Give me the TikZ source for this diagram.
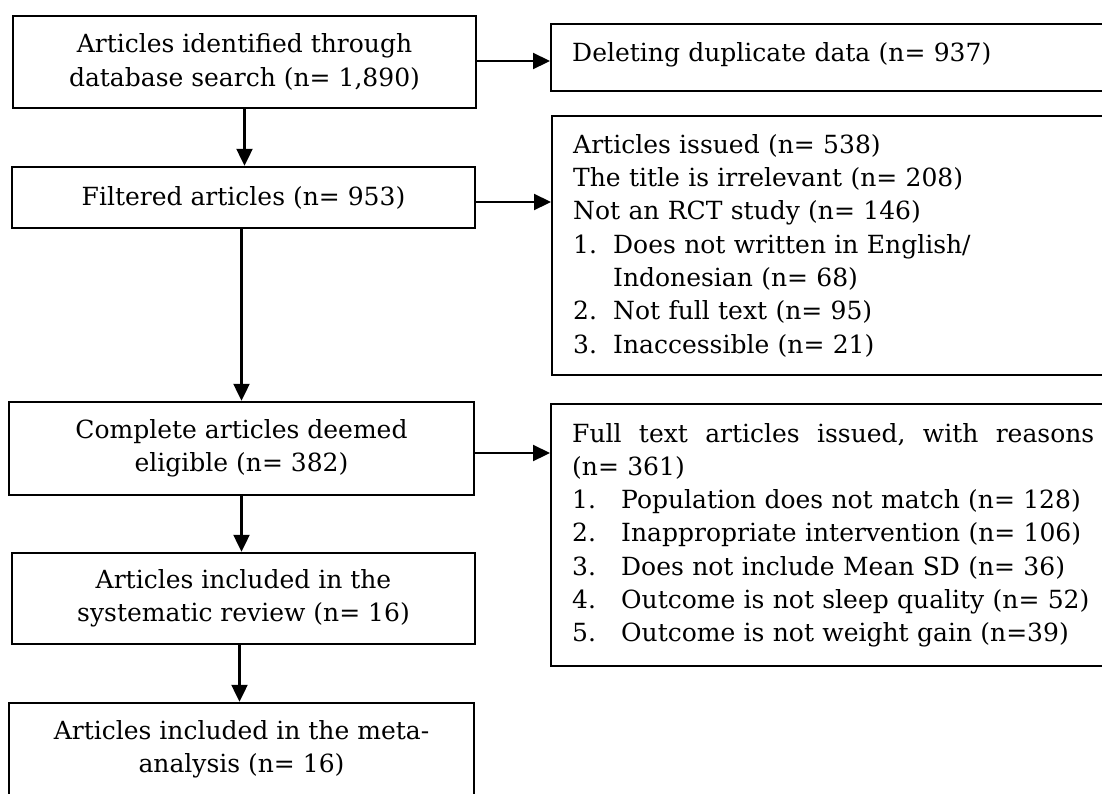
\documentclass[tikz,border=0pt]{standalone}
\usepackage{fontspec}
\setmainfont{DejaVu Serif}
\usetikzlibrary{arrows.meta}
\tikzset{
  box/.style={draw=black, line width=2.4pt, align=center, inner sep=0pt,
    font={\fontsize{25pt}{33.3pt}\selectfont}},
  lbox/.style={box, minimum width=463pt},
  rbox/.style={draw=black, line width=2.4pt, align=left, anchor=north west,
    minimum width=620pt, text width=578pt, inner xsep=21pt, inner ysep=0pt,
    font={\fontsize{25pt}{33.3pt}\selectfont}},
  arr/.style={line width=2.2pt, -{Triangle[length=17pt,width=16pt]}}
}
\begin{document}
\begin{tikzpicture}[x=1pt,y=-1pt]
\useasboundingbox[fill=white] (0,0) rectangle (1102,793);
\clip (0,0) rectangle (1102,793);
% left column
\node[lbox, minimum height=92pt] (A) at (244.5,62) {Articles identified through\\database search (n= 1,890)};
\node[lbox, minimum height=61pt] (F) at (243.5,197.5) {Filtered articles (n= 953)};
\node[box, minimum width=465pt, minimum height=93pt] (C) at (241.5,448.5) {Complete articles deemed\\eligible (n= 382)};
\node[lbox, minimum height=91pt] (S) at (243.5,598.5) {Articles included in the\\systematic review (n= 16)};
\node[box, minimum width=465pt, minimum height=93pt] (M) at (241.5,749.5) {Articles included in the meta-\\analysis (n= 16)};
% right column
\node[rbox, minimum height=67pt, text depth=12pt] (D) at (550,23) {Deleting duplicate data (n= 937)};
\node[rbox, minimum height=259pt] (B) at (551,115) {Articles issued (n= 538)\\
The title is irrelevant (n= 208)\\
Not an RCT study (n= 146)\\
\makebox[40pt][l]{1.}Does not written in English/\\
\hspace*{40pt}Indonesian (n= 68)\\
\makebox[40pt][l]{2.}Not full text (n= 95)\\
\makebox[40pt][l]{3.}Inaccessible (n= 21)};
\node[rbox, minimum height=262pt] (E) at (550,403) {\makebox[522pt][l]{Full\hfill text\hfill articles\hfill issued,\hfill with\hfill reasons}\\
(n= 361)\\
\makebox[49pt][l]{1.}Population does not match (n= 128)\\
\makebox[49pt][l]{2.}Inappropriate intervention (n= 106)\\
\makebox[49pt][l]{3.}Does not include Mean SD (n= 36)\\
\makebox[49pt][l]{4.}Outcome is not sleep quality (n= 52)\\
\makebox[49pt][l]{5.}Outcome is not weight gain (n=39)};
% vertical arrows
\draw[arr] (A.south) -- (A.south |- F.north);
\draw[arr] ([xshift=-2pt]F.south) -- ([xshift=-2pt]F.south |- C.north);
\draw[arr] (C.south) -- (C.south |- S.north);
\draw[arr] ([xshift=-4pt]S.south) -- ([xshift=-4pt]S.south |- M.north);
% horizontal arrows
\draw[arr] ([yshift=1pt]A.east) -- ([yshift=1pt]A.east -| D.west);
\draw[arr] ([yshift=-4.5pt]F.east) -- ([yshift=-4.5pt]F.east -| B.west);
\draw[arr] ([yshift=-4.5pt]C.east) -- ([yshift=-4.5pt]C.east -| E.west);
\end{tikzpicture}
\end{document}
